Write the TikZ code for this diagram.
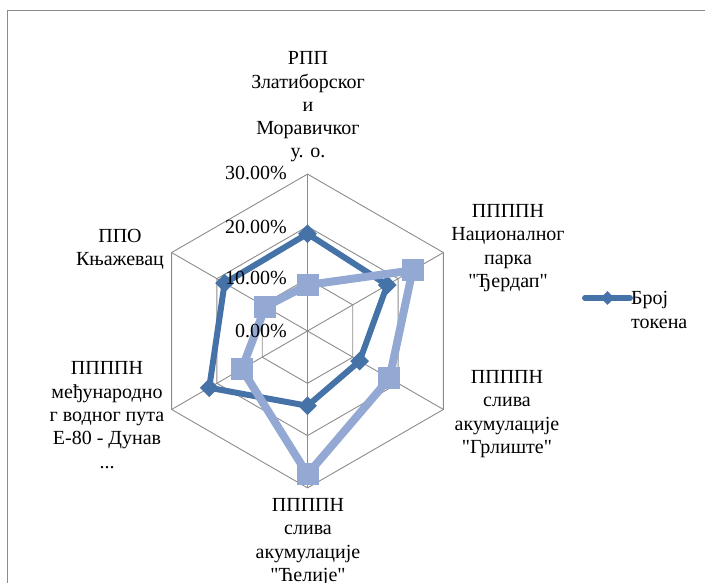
\documentclass[tikz,border=0pt]{standalone}
\usepackage{fontspec}
\setmainfont{Liberation Serif}[Ligatures=TeXOff]
\newfontfamily\lserif{Liberation Serif}[Ligatures=TeXOff]
\usetikzlibrary{shapes.geometric,calc}
\definecolor{darkser}{RGB}{69,114,167}
\definecolor{lightser}{RGB}{147,169,212}
\definecolor{gridgray}{RGB}{140,140,140}
\tikzset{
  gridline/.style={draw=gridgray,line width=0.9pt},
  lbl/.style={align=center,inner sep=0pt,font=\lserif\fontsize{20}{23.3}\selectfont},
  ticklbl/.style={anchor=east,inner sep=0pt,font=\lserif\fontsize{20}{23.3}\selectfont},
  darkline/.style={draw=darkser,line width=6pt,line join=round},
  lightline/.style={draw=lightser,line width=8pt,line join=round},
  dmark/.style={diamond,fill=darkser,minimum size=19pt,inner sep=0pt},
  smark/.style={rectangle,fill=lightser,minimum size=22pt,inner sep=0pt}
}
\begin{document}
\begin{tikzpicture}[x=1pt,y=1pt]
\useasboundingbox (0,-582) rectangle (705,0);
% outer frame
\draw[gridgray,line width=0.9pt] (7,-620) -- (7,-10) -- (740,-10);
\coordinate (c) at (307.5,-331);
\def\u{5.23}
% grid hexagons
\foreach \r in {10,20,30}{
  \draw[gridline] ($(c)+(90:\r*\u)$) -- ($(c)+(30:\r*\u)$) -- ($(c)+(-30:\r*\u)$) -- ($(c)+(-90:\r*\u)$) -- ($(c)+(-150:\r*\u)$) -- ($(c)+(150:\r*\u)$) -- cycle;
}
\foreach \a in {90,30,-30,-90,-150,150}{
  \draw[gridline] (c) -- ($(c)+(\a:30*\u)$);
}
% data coordinates
\coordinate (d1) at ($(c)+(90:18.6*\u)$);
\coordinate (d2) at ($(c)+(30:17.6*\u)$);
\coordinate (d3) at ($(c)+(-30:11.5*\u)$);
\coordinate (d4) at ($(c)+(-90:14.3*\u)$);
\coordinate (d5) at ($(c)+(-150:21.7*\u)$);
\coordinate (d6) at ($(c)+(150:18.3*\u)$);
\coordinate (l1) at ($(c)+(90:8.8*\u)$);
\coordinate (l2) at ($(c)+(30:23.2*\u)$);
\coordinate (l3) at ($(c)+(-30:18.1*\u)$);
\coordinate (l4) at ($(c)+(-90:27.4*\u)$);
\coordinate (l5) at ($(c)+(-150:14.5*\u)$);
\coordinate (l6) at ($(c)+(150:9.3*\u)$);
% series 1
\draw[darkline] (d1) -- (d2) -- (d3) -- (d4) -- (d5) -- (d6) -- cycle;
\foreach \i in {1,...,6}{ \node[dmark] (dm\i) at (d\i) {}; }
% series 2
\draw[lightline] (l1) -- (l2) -- (l3) -- (l4) -- (l5) -- (l6) -- cycle;
\foreach \i in {1,...,6}{ \node[smark] (lm\i) at (l\i) {}; }
% tick labels (on top)
\node[ticklbl] (t30) at (287,-172.7) {30.00\%};
\node[ticklbl] (t20) at (287,-226.5) {20.00\%};
\node[ticklbl] (t10) at (287,-278) {10.00\%};
\node[ticklbl] (t0) at (287,-331) {0.00\%};
% axis labels
\node[lbl] (a1) at (308,-107) {РПП\\Златиборског\\и\\Моравичког\\у. о.};
\node[lbl] (a2) at (508,-248) {ППППН\\Националног\\парка\\"Ђердап"};
\node[lbl] (a3) at (507,-414) {ППППН\\слива\\акумулације\\"Грлиште"};
\node[lbl] (a4) at (308,-542) {ППППН\\слива\\акумулације\\"Ћелије"};
\node[lbl] (a5) at (107,-415) {ППППН\\међународно\\г водног пута\\Е-80 - Дунав\\...};
\node[lbl] (a6) at (120,-249) {ППО\\Књажевац};
% legend
\coordinate (lg1) at (585,-298);
\coordinate (lg2) at (630,-298);
\draw[draw=darkser,line width=6pt,line cap=round] (lg1) -- (lg2);
\node[dmark,minimum size=14pt] (lgm) at ($(lg1)!0.5!(lg2)$) {};
\node[lbl,align=left,anchor=west] (lgt) at (631,-310) {Број\\токена};
\end{tikzpicture}
\end{document}
